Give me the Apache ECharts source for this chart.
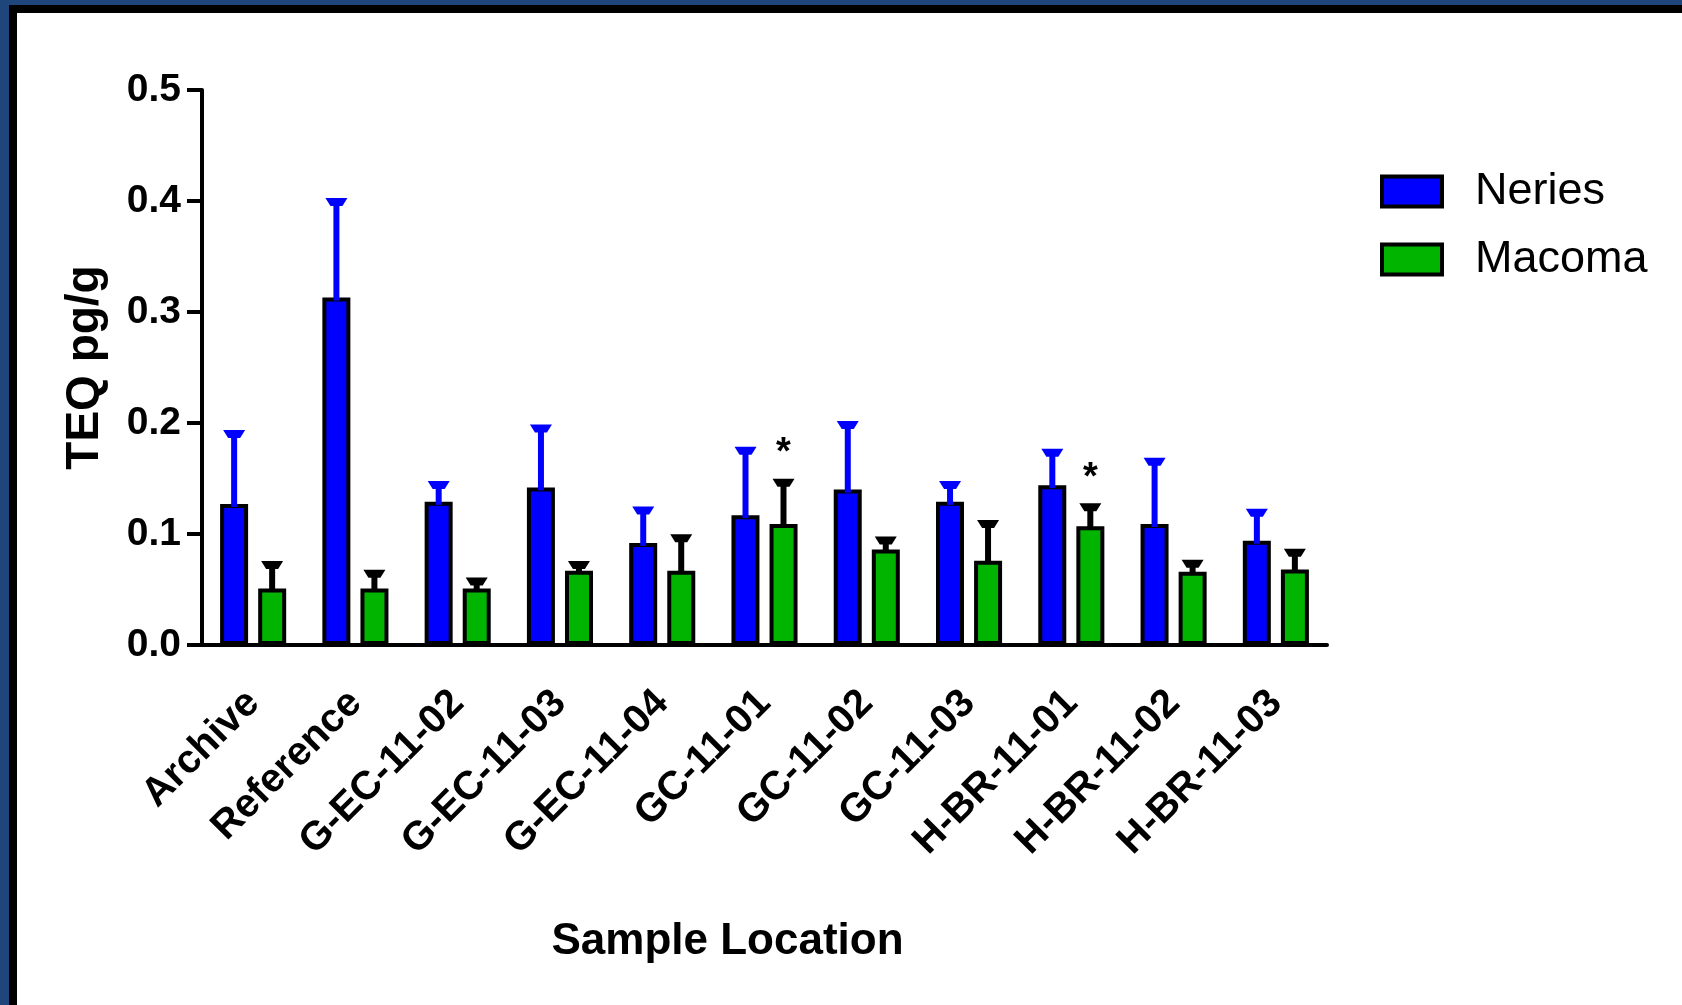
<!DOCTYPE html>
<html>
<head>
<meta charset="utf-8">
<script src="https://cdn.jsdelivr.net/npm/echarts@6/dist/echarts.min.js"></script>
<style>
  html, body { margin: 0; padding: 0; background: #fff; }
  #chart { position: absolute; left: 0; top: 0; width: 1682px; height: 1005px; background: #fff; }
  .band { position: absolute; }
</style>
</head>
<body>
<div id="chart"></div>
<div class="band" style="left:0;top:0;width:1682px;height:5px;background:#1f467b;"></div>
<div class="band" style="left:0;top:0;width:9px;height:1005px;background:#1f467b;"></div>
<div class="band" style="left:9px;top:5px;width:1673px;height:8px;background:#000;"></div>
<div class="band" style="left:9px;top:5px;width:8px;height:1000px;background:#000;"></div>
<script>
var categories = ['Archive', 'Reference', 'G-EC-11-02', 'G-EC-11-03', 'G-EC-11-04', 'GC-11-01', 'GC-11-02', 'GC-11-03', 'H-BR-11-01', 'H-BR-11-02', 'H-BR-11-03'];
var neries = [0.127, 0.313, 0.129, 0.142, 0.092, 0.117, 0.140, 0.129, 0.144, 0.109, 0.094];
var neriesErrTop = [0.191, 0.400, 0.145, 0.196, 0.122, 0.176, 0.199, 0.145, 0.174, 0.166, 0.120];
var macoma = [0.051, 0.051, 0.051, 0.067, 0.067, 0.109, 0.086, 0.076, 0.107, 0.066, 0.068];
var macomaErrTop = [0.073, 0.065, 0.058, 0.073, 0.097, 0.147, 0.095, 0.110, 0.125, 0.074, 0.084];
var macomaSig = ['', '', '', '', '', '*', '', '', '*', '', ''];

var FONT = '"Liberation Sans", Arial, sans-serif';
var chart = echarts.init(document.getElementById('chart'));

function errData(vals, tops) {
  return vals.map(function (v, i) { return [i, v, tops[i]]; });
}

// upper error bar (plus optional significance mark) drawn over one bar of the pair
function errSeries(name, vals, tops, marks, offset, color) {
  return {
    name: name,
    type: 'custom',
    z: 5,
    data: errData(vals, tops),
    encode: { x: 0, y: [1, 2] },
    renderItem: function (params, api) {
      var i = api.value(0);
      var base = api.coord([i, api.value(1)]);
      var top = api.coord([i, api.value(2)]);
      var x = base[0] + offset;
      var ty = top[1];
      var children = [
        { type: 'line', shape: { x1: x, y1: base[1] + 3, x2: x, y2: ty }, style: { stroke: color, lineWidth: 6 } },
        { type: 'polygon', shape: { points: [[x - 11, ty - 3], [x + 11, ty - 3], [x + 6, ty + 5], [x - 6, ty + 5]] }, style: { fill: color } }
      ];
      var mark = marks ? marks[params.dataIndex] : '';
      if (mark) {
        children.push({
          type: 'text',
          style: { text: mark, x: x, y: ty - 28, align: 'center', verticalAlign: 'middle', fill: '#000', font: 'bold 38px ' + FONT }
        });
      }
      return { type: 'group', children: children };
    }
  };
}

var option = {
  animation: false,
  backgroundColor: '#fff',
  grid: { left: 202, right: 355, top: 90, bottom: 360 },
  legend: {
    data: ['Neries', 'Macoma'],
    orient: 'vertical',
    left: 1375,
    top: 164,
    itemWidth: 60,
    itemHeight: 30,
    itemGap: 23,
    icon: 'rect',
    itemStyle: { borderWidth: 4, borderColor: '#000' },
    textStyle: { fontFamily: FONT, fontSize: 45, color: '#000', padding: [0, 0, 0, 28], lineHeight: 30 }
  },
  xAxis: {
    type: 'category',
    data: categories,
    name: 'Sample Location',
    nameLocation: 'middle',
    nameGap: 275,
    nameTextStyle: { fontFamily: FONT, fontWeight: 'bold', fontSize: 44, color: '#000', padding: [0, 74, 0, 0] },
    axisLine: { lineStyle: { color: '#000', width: 4 } },
    axisTick: { length: 18, lineStyle: { color: '#000', width: 4 }, alignWithLabel: true },
    axisLabel: { interval: 0, rotate: 45, margin: 52, fontFamily: FONT, fontWeight: 'bold', fontSize: 40, color: '#000' }
  },
  yAxis: {
    type: 'value',
    min: 0,
    max: 0.5,
    interval: 0.1,
    name: 'TEQ pg/g',
    nameLocation: 'middle',
    nameRotate: 90,
    nameGap: 94,
    nameTextStyle: { fontFamily: FONT, fontWeight: 'bold', fontSize: 46, color: '#000' },
    splitLine: { show: false },
    axisLine: { show: true, lineStyle: { color: '#000', width: 4 } },
    axisTick: { show: true, length: 15, lineStyle: { color: '#000', width: 4 } },
    axisLabel: {
      margin: 21, fontFamily: FONT, fontWeight: 'bold', fontSize: 39, color: '#000',
      formatter: function (v) { return v.toFixed(1); }
    }
  },
  series: [
    {
      name: 'Neries', type: 'bar', data: neries, barWidth: 28, barGap: '36%',
      itemStyle: { color: '#0000ff', borderColor: '#000', borderWidth: 4 }
    },
    {
      name: 'Macoma', type: 'bar', data: macoma, barWidth: 28,
      itemStyle: { color: '#00b400', borderColor: '#000', borderWidth: 4 }
    },
    errSeries('Neries error', neries, neriesErrTop, null, -19, '#0000ff'),
    errSeries('Macoma error', macoma, macomaErrTop, macomaSig, 19, '#000')
  ]
};

chart.setOption(option);
</script>
</body>
</html>
